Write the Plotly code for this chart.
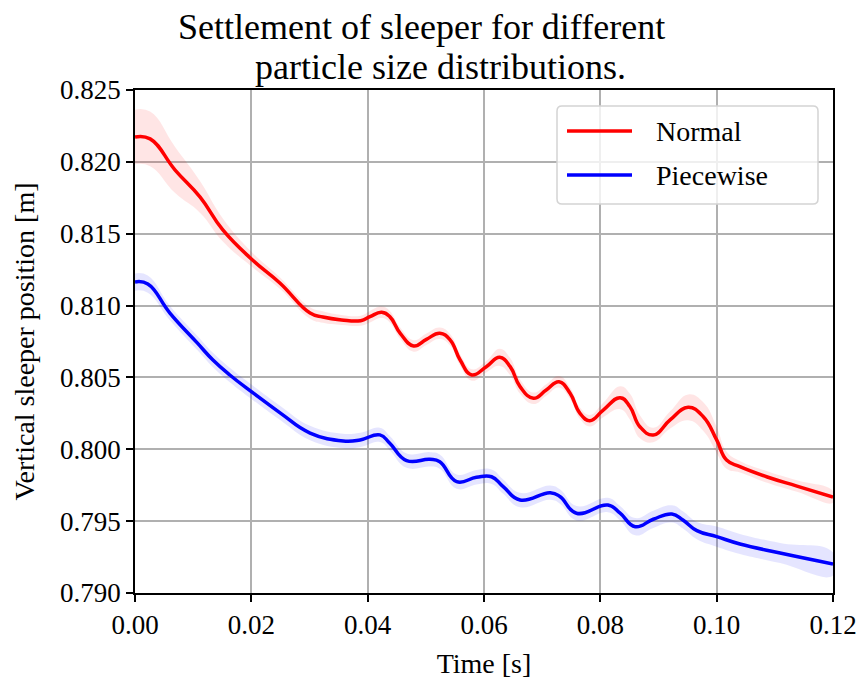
import plotly.graph_objects as go

# ---- data ----
t_normal = [0, 0.0026, 0.0069, 0.0112, 0.0151, 0.0202, 0.0249, 0.0301, 0.0323, 0.0355,
            0.0388, 0.0404, 0.0424, 0.0438, 0.0456, 0.0479, 0.0501, 0.0524, 0.0542, 0.0559,
            0.0579, 0.0604, 0.0627, 0.0645, 0.0662, 0.0685, 0.0707, 0.0729, 0.0748, 0.0765,
            0.0782, 0.0805, 0.0834, 0.0851, 0.0868, 0.0891, 0.092, 0.0951, 0.0977, 0.1,
            0.1017, 0.104, 0.1087, 0.1138, 0.12]
y_normal = [0.82173, 0.8216, 0.81943, 0.81755, 0.81526, 0.81317, 0.81157, 0.80948, 0.8092, 0.80900,
            0.80895, 0.80923, 0.80953, 0.80923, 0.80807, 0.80719, 0.80765, 0.80807, 0.8076, 0.80621,
            0.80517, 0.80575, 0.8064, 0.80575, 0.80436, 0.80355, 0.80413, 0.8047, 0.8039, 0.8025,
            0.80199, 0.80273, 0.80359, 0.80296, 0.80157, 0.80099, 0.80204, 0.80292, 0.80227, 0.80065,
            0.79925, 0.79879, 0.79807, 0.79744, 0.79668]
s_normal = [0.0019, 0.0019, 0.0016, 0.0011, 0.0008, 0.0005, 0.0004, 0.0004, 0.0004, 0.00035,
            0.00035, 0.0004, 0.0004, 0.0004, 0.0004, 0.0004, 0.0004, 0.0004, 0.0004, 0.0004,
            0.0004, 0.0004, 0.0006, 0.0006, 0.0005, 0.0004, 0.0004, 0.0004, 0.0004, 0.0004,
            0.0004, 0.0005, 0.0008, 0.0009, 0.0008, 0.0005, 0.0006, 0.0009, 0.001, 0.0009,
            0.0006, 0.0004, 0.0004, 0.0004, 0.0004]

t_piece = [0, 0.0022, 0.006, 0.0107, 0.0134, 0.0163, 0.0203, 0.025, 0.0301, 0.0358,
           0.0387, 0.0421, 0.0438, 0.0467, 0.0507, 0.0524, 0.0553, 0.0587, 0.0613, 0.0633,
           0.0662, 0.0714, 0.0731, 0.0759, 0.0813, 0.0834, 0.086, 0.0891, 0.0923, 0.0942,
           0.0966, 0.1, 0.104, 0.1109, 0.12]
y_piece = [0.81164, 0.8115, 0.80948, 0.8074, 0.80621, 0.80517, 0.80392, 0.80252, 0.80113, 0.80058,
           0.80065, 0.801, 0.80042, 0.79921, 0.7993, 0.79914, 0.79775, 0.79805, 0.79809, 0.7974,
           0.79647, 0.79698, 0.7967, 0.79555, 0.79612, 0.79555, 0.79461, 0.79513, 0.7955, 0.79508,
           0.79434, 0.79392, 0.79341, 0.79278, 0.79202]
s_piece = [0.0006, 0.0006, 0.0005, 0.0005, 0.0005, 0.0005, 0.0005, 0.0005, 0.0005, 0.0005,
           0.0005, 0.0005, 0.0005, 0.0005, 0.0005, 0.0005, 0.0005, 0.0005, 0.0005, 0.0005,
           0.0005, 0.0005, 0.0005, 0.0005, 0.0005, 0.0005, 0.0006, 0.0006, 0.0006, 0.0006,
           0.0006, 0.0007, 0.0007, 0.0007, 0.0008]

series_names = ["Normal", "Piecewise"]
series_colors = ["#ff0000", "#0000ff"]
x_ticks = [0.00, 0.02, 0.04, 0.06, 0.08, 0.10, 0.12]
y_ticks = [0.790, 0.795, 0.800, 0.805, 0.810, 0.815, 0.820, 0.825]

FONT = "Liberation Serif"
SMOOTH = 1.3

fig = go.Figure()

def band(t, y, s, color):
    up = [a + b for a, b in zip(y, s)]
    lo = [a - b for a, b in zip(y, s)]
    return go.Scatter(x=list(t) + list(t)[::-1], y=up + lo[::-1], fill="toself",
                      fillcolor=color, line=dict(width=0, shape="spline", smoothing=SMOOTH),
                      mode="lines", hoverinfo="skip", showlegend=False)

fig.add_trace(band(t_normal, y_normal, s_normal, "rgba(255,0,0,0.1)"))
fig.add_trace(band(t_piece, y_piece, s_piece, "rgba(0,0,255,0.1)"))
fig.add_trace(go.Scatter(x=t_normal, y=y_normal, mode="lines", name=series_names[0], showlegend=False,
                         line=dict(color=series_colors[0], width=3.5, shape="spline", smoothing=SMOOTH)))
fig.add_trace(go.Scatter(x=t_piece, y=y_piece, mode="lines", name=series_names[1], showlegend=False,
                         line=dict(color=series_colors[1], width=3.5, shape="spline", smoothing=SMOOTH)))

L, R, T, B = 135, 29, 90, 93
PH = 686 - T - B
PW = 862 - L - R

def px_x(px):
    return (px - L) / PW

def px_y(py):
    return 1 + (T - py) / PH

# title (two lines, as in the reference)
fig.add_annotation(text="Settlement of sleeper for different", xref="paper", yref="paper",
                   x=px_x(421), y=px_y(27), xanchor="center", yanchor="middle",
                   showarrow=False, font=dict(family=FONT, size=36, color="black"))
fig.add_annotation(text="particle size distributions.", xref="paper", yref="paper",
                   x=px_x(440), y=px_y(67), xanchor="center", yanchor="middle",
                   showarrow=False, font=dict(family=FONT, size=36, color="black"))

# legend box (matplotlib-style, rounded)
x0, x1, y0, y1, r = 557, 818, 106, 204, 5
path = (f"M {px_x(x0 + r)},{px_y(y0)} L {px_x(x1 - r)},{px_y(y0)} "
        f"Q {px_x(x1)},{px_y(y0)} {px_x(x1)},{px_y(y0 + r)} "
        f"L {px_x(x1)},{px_y(y1 - r)} Q {px_x(x1)},{px_y(y1)} {px_x(x1 - r)},{px_y(y1)} "
        f"L {px_x(x0 + r)},{px_y(y1)} Q {px_x(x0)},{px_y(y1)} {px_x(x0)},{px_y(y1 - r)} "
        f"L {px_x(x0)},{px_y(y0 + r)} Q {px_x(x0)},{px_y(y0)} {px_x(x0 + r)},{px_y(y0)} Z")
fig.add_shape(type="path", path=path, xref="paper", yref="paper",
              fillcolor="rgba(255,255,255,0.8)", line=dict(color="#d4d4d4", width=1.5), layer="above")
for i, (name, col) in enumerate(zip(series_names, series_colors)):
    yc = 131 + 44 * i
    fig.add_shape(type="line", xref="paper", yref="paper", x0=px_x(567), x1=px_x(632),
                  y0=px_y(yc), y1=px_y(yc), line=dict(color=col, width=3.5), layer="above")
    fig.add_annotation(text=name, xref="paper", yref="paper", x=px_x(654), y=px_y(yc),
                       xanchor="left", yanchor="middle", showarrow=False,
                       font=dict(family=FONT, size=28, color="black"))

axis_common = dict(showline=True, linecolor="black", linewidth=1.5, mirror=True,
                   ticks="outside", ticklen=7, tickwidth=1.5, tickcolor="black",
                   showgrid=True, gridcolor="#b0b0b0", gridwidth=1.5, zeroline=False,
                   automargin=False,
                   tickfont=dict(family=FONT, size=27, color="black"))

fig.update_layout(
    width=862, height=686,
    margin=dict(l=L, r=R, t=T, b=B),
    paper_bgcolor="white", plot_bgcolor="white",
    font=dict(family=FONT, color="black"),
    xaxis=dict(range=[0, 0.12], tickvals=x_ticks, tickformat=".2f",
               title=dict(text="Time [s]", font=dict(family=FONT, size=28), standoff=14),
               **axis_common),
    yaxis=dict(range=[0.790, 0.825], tickvals=y_ticks, tickformat=".3f",
               title=dict(text="Vertical sleeper position [m]", font=dict(family=FONT, size=28), standoff=17),
               **axis_common),
    showlegend=False,
)

fig.write_html("out.html")
